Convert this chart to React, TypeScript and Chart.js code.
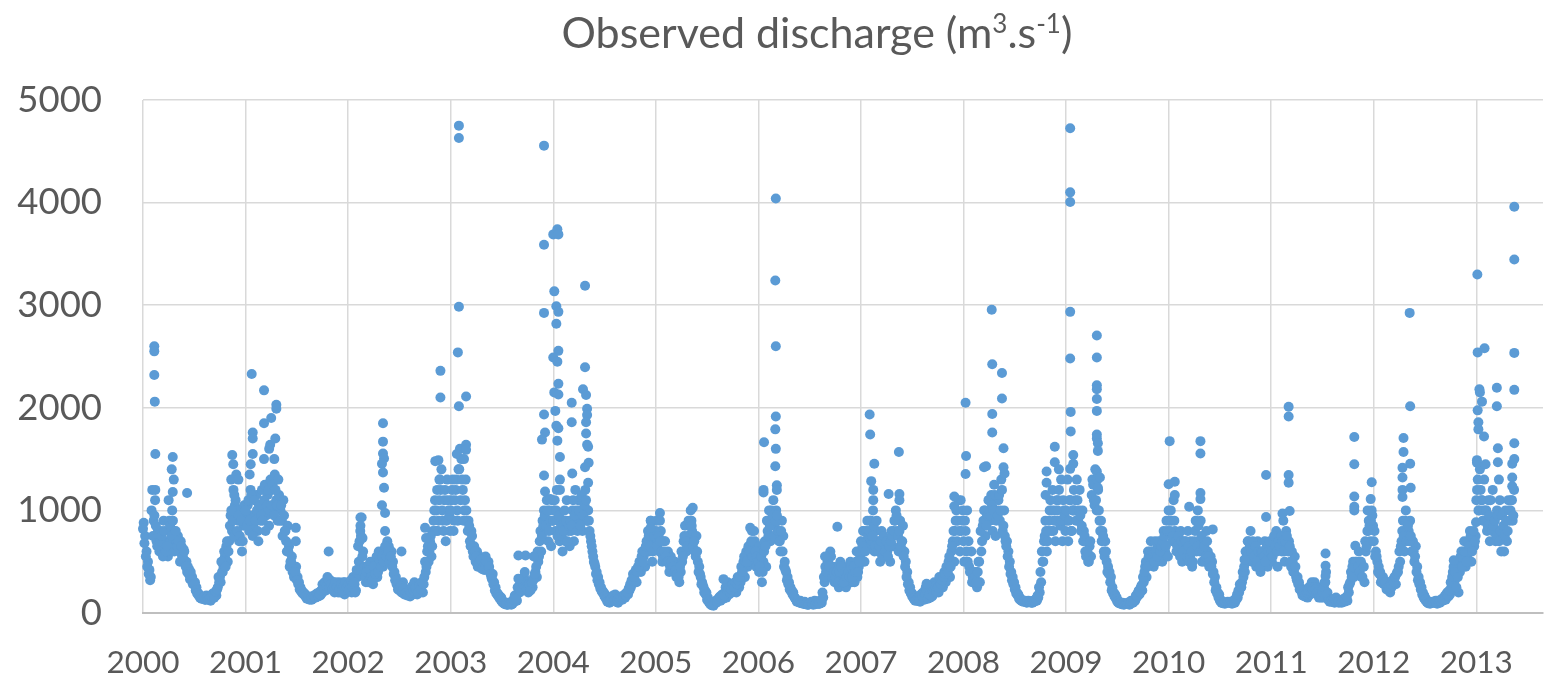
import { useEffect, useRef } from "react";
import { Chart, registerables } from "chart.js";

Chart.register(...registerables);

// Observed discharge, m3/s, 6 readings per month (Jan..Dec), mid-interval
const q2000 = [880,750,600,500,420,350, 1200,900,1100,700,800,600, 800,600,900,650,700,550, 900,700,1000,800,650,700, 750,600,700,550,620,500, 500,450,420,400,350,300, 300,250,200,180,160,150, 150,130,170,140,160,120, 180,150,200,170,250,300, 300,400,450,550,650,500, 700,950,800,1200,1050,1350, 900,700,1000,600,850,950];
const q2001 = [900,1050,800,1200,950,850, 950,1150,800,1050,900,1200, 1000,1250,950,1150,850,1300, 1200,1000,1350,1100,900,1150, 1000,900,1100,800,700,850, 650,500,550,420,380,450, 350,300,250,220,200,190, 170,150,140,160,130,150, 150,180,160,200,170,190, 250,300,220,350,280,320, 250,300,200,280,220,300, 200,250,300,180,230,280];
const q2002 = [250,300,200,350,280,220, 350,500,800,930,600,450, 300,450,350,500,400,280, 400,500,350,600,450,500, 450,600,500,700,650,550, 600,500,400,350,300,250, 250,200,300,180,220,170, 200,160,250,180,300,200, 180,250,200,300,200,350, 400,600,500,700,550,800, 1000,800,1200,900,1300,1400, 900,1100,700,1300,1000,800];
const q2003 = [1100,1300,900,1200,1000,1400, 1600,1500,1200,1000,1300,900, 900,700,800,600,650,500, 600,500,550,450,480,420, 550,450,500,400,350,380, 300,250,200,180,160,150, 120,100,90,80,100,90, 80,90,110,150,120,200, 200,300,250,350,560,300, 200,250,300,250,350,400, 350,500,700,600,900,1000, 800,1100,700,1000,650,900];
const q2004 = [1000,800,1200,900,700,850, 600,900,700,1100,800,650, 800,1000,700,1200,900,1100, 900,1100,800,1000,1200,900, 1000,800,700,600,500,450, 400,350,300,250,220,200, 180,150,120,100,150,130, 150,180,120,100,140,160, 130,170,150,200,180,220, 250,300,350,400,300,450, 500,400,600,550,450,700, 800,600,900,500,700,650];
const q2005 = [900,700,600,800,500,700, 700,500,600,400,550,450, 400,500,350,450,300,400, 500,700,850,600,750,650, 1000,800,700,600,750,500, 450,350,300,250,220,200, 150,120,100,80,70,100, 100,130,150,120,180,140, 200,150,300,180,250,200, 250,300,200,350,250,300, 400,500,350,600,450,550, 500,800,600,700,450,650];
const q2006 = [400,600,300,500,700,450, 800,1000,700,900,1100,850, 1000,800,700,600,900,750, 500,400,350,300,250,220, 200,150,130,120,110,120, 100,90,110,100,80,90, 90,100,80,120,100,90, 90,110,100,150,300,400, 500,350,600,400,450,300, 300,450,250,500,350,400, 350,250,450,300,500,300, 400,300,500,350,450,550];
const q2007 = [600,800,500,700,900,650, 900,700,1000,600,800,700, 700,500,800,600,650,550, 600,700,500,800,650,900, 1000,800,600,900,700,850, 600,500,400,300,250,200, 180,150,130,120,140,110, 150,200,130,250,180,160, 150,200,180,300,220,250, 200,300,350,250,400,300, 400,500,350,600,700,500, 900,700,1100,600,800,1000];
const q2008 = [500,800,1000,700,400,600, 350,300,400,250,500,300, 600,850,1000,750,950,1100, 900,1150,800,1250,750,1000, 1100,900,1300,800,1000,700, 700,600,500,400,350,300, 250,200,180,150,130,120, 120,110,100,120,110,100, 100,110,130,120,150,200, 300,500,700,900,600,800, 1000,800,1200,900,700,1100, 1100,900,1300,700,1000,800];
const q2009 = [900,700,1100,800,1000,1200, 1100,1300,900,1200,800,1000, 800,600,700,500,650,550, 1300,1100,1400,1000,1200,900, 900,800,600,700,500,450, 400,350,250,200,180,150, 120,100,90,100,80,90, 90,100,80,120,100,110, 120,150,200,180,250,220, 300,450,350,600,500,700, 600,450,700,500,650,550, 700,500,800,600,900,550];
const q2010 = [900,1000,700,1100,800,600, 700,600,800,500,650,550, 600,800,500,700,450,650, 800,600,1000,700,900,500, 700,500,800,600,450,550, 500,400,350,250,200,180, 130,110,100,90,100,110, 100,110,90,120,100,130, 150,200,250,300,350,400, 500,700,600,800,500,650, 600,450,700,550,400,500, 500,700,600,450,550,650];
const q2011 = [500,700,600,800,450,650, 700,600,900,500,800,650, 700,500,600,400,550,350, 350,300,250,200,180,160, 200,150,250,180,300,200, 300,200,250,150,200,170, 150,300,400,200,150,120, 110,130,100,150,120,100, 120,100,130,110,150,120, 200,300,350,500,400,450, 400,600,500,350,450,300, 600,800,900,700,1000,850];
const q2012 = [800,600,500,450,400,350, 350,300,280,250,300,200, 250,300,350,280,400,450, 500,700,900,600,1000,800, 800,900,600,700,500,650, 450,350,300,250,200,170, 140,120,100,90,100,110, 100,120,90,110,100,130, 120,150,130,200,160,180, 250,400,300,500,350,200, 400,600,500,700,450,550, 600,800,500,700,650,750];
const q2013 = [1200,1000,1400,1100,900,1300, 1000,800,1100,700,900,1200, 900,700,1000,800,1100,600, 800,600,1000,700,1100,900, 1100,900,1200];

// Second set of readings, 6 per month, at the start of each interval
const r2000 = [820,680,550,450,380,320, 1000,750,950,850,650,750, 700,750,550,800,600,650, 1100,850,750,900,600,800, 650,700,500,650,550,600, 450,400,380,330,320,280, 280,220,190,170,150,140, 140,160,130,150,130,140, 160,190,150,210,230,350, 350,500,400,600,450,700, 600,850,1000,900,750,1100, 800,950,750,900,700,1050];
const r2001 = [1000,850,1100,900,1150,750, 1100,900,1000,700,1050,950, 900,1100,800,1050,1200,1000, 1050,1250,950,1200,1050,1300, 900,1050,750,950,800,600, 600,450,500,400,350,400, 320,280,230,210,190,180, 160,140,150,130,150,140, 170,150,190,160,180,220, 280,240,300,260,330,250, 280,230,260,300,250,200, 230,280,220,260,300,250];
const r2002 = [280,230,320,250,300,200, 420,650,700,750,550,380, 350,400,300,420,350,320, 450,380,550,400,520,450, 550,500,650,550,600,500, 550,450,380,320,280,230, 220,260,200,240,190,200, 180,220,200,260,220,240, 220,200,270,230,300,280, 500,450,650,600,750,650, 900,1100,1000,800,1100,1200, 1000,800,1200,900,1100,950];
const r2003 = [1000,1200,800,1100,1300,900, 1400,1100,1300,900,1100,1000, 800,850,650,750,550,600, 550,450,500,520,430,460, 480,500,420,450,380,330, 280,220,190,170,150,130, 110,95,85,90,80,100, 90,100,130,170,140,250, 250,220,300,280,400,250, 230,280,220,300,320,380, 450,600,550,800,750,850, 950,850,1000,800,900,1100];
const r2004 = [900,1100,1000,750,950,800, 750,800,1000,900,700,850, 900,850,1100,950,1000,800, 1000,850,1150,950,1050,1100, 900,900,750,650,550,480, 380,320,280,240,210,190, 160,140,110,120,130,140, 170,130,110,130,150,140, 150,160,180,170,200,240, 280,320,380,350,420,400, 450,500,550,500,600,650, 700,750,650,800,600,750];
const r2005 = [800,650,750,700,600,550, 600,550,500,500,450,500, 450,400,420,380,350,450, 600,550,750,700,650,900, 850,900,650,700,550,600, 400,380,280,270,200,180, 130,110,90,75,85,90, 120,110,140,160,150,160, 170,250,220,230,200,230, 280,250,300,280,320,350, 450,400,550,500,500,650, 600,700,550,800,600,550];
const r2006 = [500,450,550,400,600,650, 900,750,850,1000,950,750, 900,950,800,700,800,600, 450,420,320,280,230,210, 180,160,140,110,120,100, 95,100,90,85,95,80, 85,110,95,100,85,110, 100,90,130,200,350,450, 400,500,450,550,350,400, 350,400,300,400,450,300, 300,400,350,400,350,450, 350,450,400,600,400,500];
const r2007 = [700,650,800,600,800,750, 800,900,750,850,650,900, 600,650,700,550,750,600, 700,550,650,700,750,800, 900,950,750,800,650,700, 550,450,350,280,220,190, 160,140,120,130,120,130, 180,160,200,190,220,140, 180,250,160,250,260,200, 250,350,280,320,350,380, 450,400,550,450,650,800, 800,1000,900,800,1100,900];
const r2008 = [700,900,600,500,450,400, 300,400,350,300,400,500, 800,700,900,1000,850,950, 1100,950,1050,1000,1150,900, 950,1150,1000,1200,850,750, 650,550,450,380,320,280, 230,190,170,140,125,115, 110,120,105,110,115,105, 105,120,115,140,170,250, 400,600,500,750,800,700, 900,1100,1000,800,1000,900, 1000,1200,850,900,1100,950];
const r2009 = [1000,1300,900,1100,800,1000, 1000,900,1100,1000,950,850, 700,750,550,600,500,700, 1150,1250,1050,1100,1300,1000, 800,700,750,550,600,400, 380,300,220,190,160,140, 110,95,100,85,95,85, 95,90,100,95,110,100, 130,170,160,220,200,270, 350,400,500,450,550,600, 550,600,500,600,550,700, 600,650,700,750,650,800];
const r2010 = [1000,800,900,750,900,700, 650,750,550,700,600,700, 700,550,650,550,600,500, 700,900,650,850,600,750, 600,650,550,700,550,500, 450,380,300,220,190,150, 120,100,95,100,105,100, 105,100,110,100,120,140, 180,220,280,250,400,450, 600,550,700,650,600,700, 550,650,500,600,450,600, 600,550,500,650,600,700];
const r2011 = [600,550,750,650,600,700, 650,750,700,600,700,750, 600,650,450,500,400,450, 320,280,230,220,170,200, 180,200,220,250,250,230, 250,230,200,180,160,150, 200,250,300,180,130,110, 120,110,140,130,110,115, 110,125,120,140,130,160, 250,280,400,450,350,500, 500,450,400,500,350,450, 700,650,800,850,900,950];
const r2012 = [700,550,550,400,380,300, 320,280,300,230,250,250, 280,320,300,350,380,400, 600,650,800,750,900,700, 850,700,750,600,600,550, 400,320,280,230,180,150, 130,110,95,100,105,100, 110,100,105,120,115,120, 140,130,170,180,170,220, 300,350,450,400,250,350, 500,550,450,600,600,500, 700,650,750,600,800,700];
const r2013 = [1100,1300,1000,1200,1100,1000, 900,1000,850,950,1100,800, 850,900,750,950,700,800, 950,850,750,900,800,1000, 1000,1100,950];

// Isolated high readings: [fraction of year, value]
const pk2000 = [[0.11,2600],[0.11,2550],[0.11,2320],[0.115,2060],[0.12,1550],[0.12,1200],[0.29,1520],[0.28,1400],[0.3,1300],[0.29,1180],[0.43,1170],[0.87,1540],[0.88,1450],[0.86,1300],[0.89,1150],[0.93,1300]];
const pk2001 = [[0.06,2330],[0.07,1760],[0.07,1700],[0.07,1550],[0.05,1450],[0.04,1350],[0.18,2170],[0.18,1850],[0.18,1500],[0.25,1900],[0.24,1640],[0.23,1600],[0.3,2030],[0.3,1990],[0.29,1700],[0.28,1500],[0.49,830],[0.49,700],[0.81,600]];
const pk2002 = [[0.12,930],[0.12,850],[0.14,730],[0.34,1850],[0.34,1670],[0.34,1555],[0.35,1505],[0.34,1370],[0.35,1220],[0.33,1455],[0.33,1050],[0.36,975],[0.36,800],[0.52,600],[0.75,830],[0.76,730],[0.9,2360],[0.9,2100],[0.88,1490],[0.85,1480],[0.89,1300]];
const pk2003 = [[0.08,4750],[0.08,4630],[0.08,2985],[0.07,2540],[0.08,2015],[0.15,2110],[0.06,1550],[0.15,1640],[0.15,1590],[0.13,1500],[0.66,560],[0.66,335],[0.81,550],[0.91,4555],[0.91,3590],[0.91,2925],[0.91,1935],[0.92,1760],[0.89,1690],[0.91,1340],[0.92,1185],[0.97,1110]];
const pk2004 = [[0.0,3690],[0.04,3740],[0.05,3690],[0.01,3135],[0.03,2990],[0.05,2935],[0.03,2820],[0.05,2555],[0.0,2490],[0.04,2450],[0.05,2235],[0.01,2150],[0.05,2130],[0.02,1970],[0.03,1825],[0.05,1800],[0.04,1680],[0.065,1520],[0.065,1300],[0.065,1200],[0.18,2050],[0.18,1860],[0.185,1360],[0.31,3190],[0.31,2395],[0.29,2180],[0.32,2125],[0.33,1990],[0.33,1930],[0.32,1860],[0.32,1750],[0.33,1640],[0.34,1620],[0.345,1465],[0.31,1420],[0.34,1270],[0.95,900],[0.95,830]];
const pk2005 = [[0.04,975],[0.04,900],[0.36,1025],[0.35,850],[0.66,330],[0.92,830]];
const pk2006 = [[0.055,1665],[0.05,1200],[0.05,1175],[0.17,4040],[0.165,3240],[0.17,2600],[0.17,1915],[0.165,1790],[0.17,1600],[0.165,1430],[0.18,1245],[0.18,1200],[0.77,840],[0.65,550]];
const pk2007 = [[0.085,1935],[0.09,1740],[0.13,1455],[0.1,1285],[0.12,1200],[0.12,1100],[0.27,1160],[0.37,1570],[0.375,1160],[0.375,1100],[0.91,1135],[0.91,1040],[0.64,285]];
const pk2008 = [[0.02,2050],[0.025,1530],[0.02,1355],[0.275,2955],[0.28,2425],[0.28,1940],[0.28,1760],[0.22,1430],[0.2,1420],[0.375,2340],[0.375,2090],[0.39,1605],[0.39,1420],[0.4,1360],[0.81,1380],[0.81,1270],[0.8,1150],[0.89,1620],[0.89,1470],[0.93,1400]];
const pk2009 = [[0.04,4725],[0.04,4100],[0.04,4005],[0.04,2935],[0.04,2480],[0.045,1960],[0.045,1770],[0.07,1540],[0.07,1455],[0.04,1405],[0.3,2705],[0.3,2490],[0.3,2220],[0.3,2180],[0.3,2085],[0.3,1970],[0.3,1740],[0.3,1700],[0.31,1655],[0.31,1580],[0.3,1380],[0.33,1320],[0.31,1220]];
const pk2010 = [[0.01,1675],[0.0,1255],[0.06,1280],[0.06,1150],[0.2,1035],[0.31,1675],[0.31,1555],[0.31,1170],[0.31,1110],[0.43,815],[0.74,520],[0.95,1345],[0.95,935]];
const pk2011 = [[0.11,970],[0.17,2010],[0.17,1915],[0.17,1345],[0.17,1270],[0.18,995],[0.53,580],[0.53,460],[0.53,360],[0.81,1715],[0.81,1450],[0.81,1135],[0.81,1035],[0.81,1000],[0.82,655],[0.98,1275],[0.97,1110],[0.94,1000]];
const pk2012 = [[0.35,2925],[0.355,2015],[0.29,1705],[0.29,1570],[0.355,1455],[0.28,1415],[0.28,1320],[0.36,1220],[0.28,1200],[0.28,1130],[0.78,515],[0.997,885]];
const pk2013 = [[0.01,3300],[0.013,2540],[0.08,2580],[0.03,2180],[0.035,2150],[0.055,2060],[0.013,1975],[0.02,1860],[0.02,1790],[0.075,1720],[0.006,1490],[0.006,1465],[0.09,1450],[0.2,2195],[0.2,2015],[0.21,1605],[0.21,1470],[0.22,1300],[0.37,3960],[0.37,3445],[0.37,2535],[0.37,2175],[0.37,1655],[0.35,1455],[0.35,1320],[0.35,1235],[0.37,1500]];

const years = [2000, 2001, 2002, 2003, 2004, 2005, 2006, 2007, 2008, 2009, 2010, 2011, 2012, 2013];
const seriesMid = [q2000, q2001, q2002, q2003, q2004, q2005, q2006, q2007, q2008, q2009, q2010, q2011, q2012, q2013];
const seriesStart = [r2000, r2001, r2002, r2003, r2004, r2005, r2006, r2007, r2008, r2009, r2010, r2011, r2012, r2013];
const peaks = [pk2000, pk2001, pk2002, pk2003, pk2004, pk2005, pk2006, pk2007, pk2008, pk2009, pk2010, pk2011, pk2012, pk2013];
const yTicks = [0, 1000, 2000, 3000, 4000, 5000];

const TEXT = "#595959";
const FONT = "Lato, 'Open Sans', sans-serif";

const titlePlugin = {
  id: "supTitle",
  afterDraw(chart: any) {
    const ctx = chart.ctx as CanvasRenderingContext2D;
    const big = 43;
    const small = 26;
    const parts: [string, boolean][] = [
      ["Observed discharge (m", false],
      ["3", true],
      [".s", false],
      ["-1", true],
      [")", false],
    ];
    ctx.save();
    let total = 0;
    const widths = parts.map(([t, sup]) => {
      ctx.font = `${sup ? small : big}px ${FONT}`;
      const w = ctx.measureText(t).width;
      total += w;
      return w;
    });
    let x = 817 - total / 2;
    const base = 48;
    ctx.fillStyle = TEXT;
    ctx.textBaseline = "alphabetic";
    ctx.textAlign = "left";
    parts.forEach(([t, sup], i) => {
      ctx.font = `${sup ? small : big}px ${FONT}`;
      ctx.fillText(t, x, sup ? base - 15 : base);
      x += widths[i];
    });
    ctx.restore();
  },
};

export default function App() {
  const ref = useRef<HTMLCanvasElement>(null);
  useEffect(() => {
    const pts: { x: number; y: number }[] = [];
    seriesMid.forEach((arr, k) => {
      arr.forEach((v, i) => pts.push({ x: years[k] + (i + 0.5) / 72, y: v }));
    });
    seriesStart.forEach((arr, k) => {
      arr.forEach((v, i) => pts.push({ x: years[k] + i / 72, y: v }));
    });
    peaks.forEach((arr, k) => {
      arr.forEach(([f, v]) => pts.push({ x: years[k] + f, y: v }));
    });
    const chart = new Chart(ref.current as HTMLCanvasElement, {
      type: "scatter",
      data: {
        datasets: [
          {
            data: pts,
            backgroundColor: "#5B9BD5",
            borderColor: "#5B9BD5",
            borderWidth: 0,
            pointRadius: 5,
            pointHoverRadius: 5,
            clip: false,
          } as any,
        ],
      },
      options: {
        animation: false,
        responsive: true,
        maintainAspectRatio: false,
        events: [],
        layout: { padding: { left: 0, right: 11, top: 100, bottom: 0 } },
        plugins: {
          legend: { display: false },
          tooltip: { enabled: false },
          title: { display: false },
        },
        scales: {
          x: {
            type: "linear",
            min: 2000,
            max: 2013.65,
            afterBuildTicks: (s: any) => {
              s.ticks = years.map((v) => ({ value: v }));
            },
            afterFit: (s: any) => {
              s.height = 66;
            },
            grid: { color: "#d9d9d9", lineWidth: 1.5, drawTicks: false },
            border: { color: "#bfbfbf", width: 2 },
            ticks: {
              color: TEXT,
              font: { family: FONT, size: 31.5 },
              padding: 31,
              maxRotation: 0,
              autoSkip: false,
              callback: (v: any) => String(v),
            },
          },
          y: {
            min: 0,
            max: 5000,
            afterBuildTicks: (s: any) => {
              s.ticks = yTicks.map((v) => ({ value: v }));
            },
            afterFit: (s: any) => {
              s.width = 143;
            },
            grid: { color: "#d9d9d9", lineWidth: 1.5, drawTicks: false },
            border: { display: false },
            ticks: {
              color: TEXT,
              font: { family: FONT, size: 36.5 },
              padding: 41,
              callback: (v: any) => String(v),
            },
          },
        },
      },
      plugins: [titlePlugin],
    });
    return () => chart.destroy();
  }, []);
  return (
    <div
      style={{
        position: "fixed",
        left: 0,
        top: 0,
        width: 1554,
        height: 679,
        background: "#ffffff",
      }}
    >
      <canvas ref={ref} />
    </div>
  );
}
